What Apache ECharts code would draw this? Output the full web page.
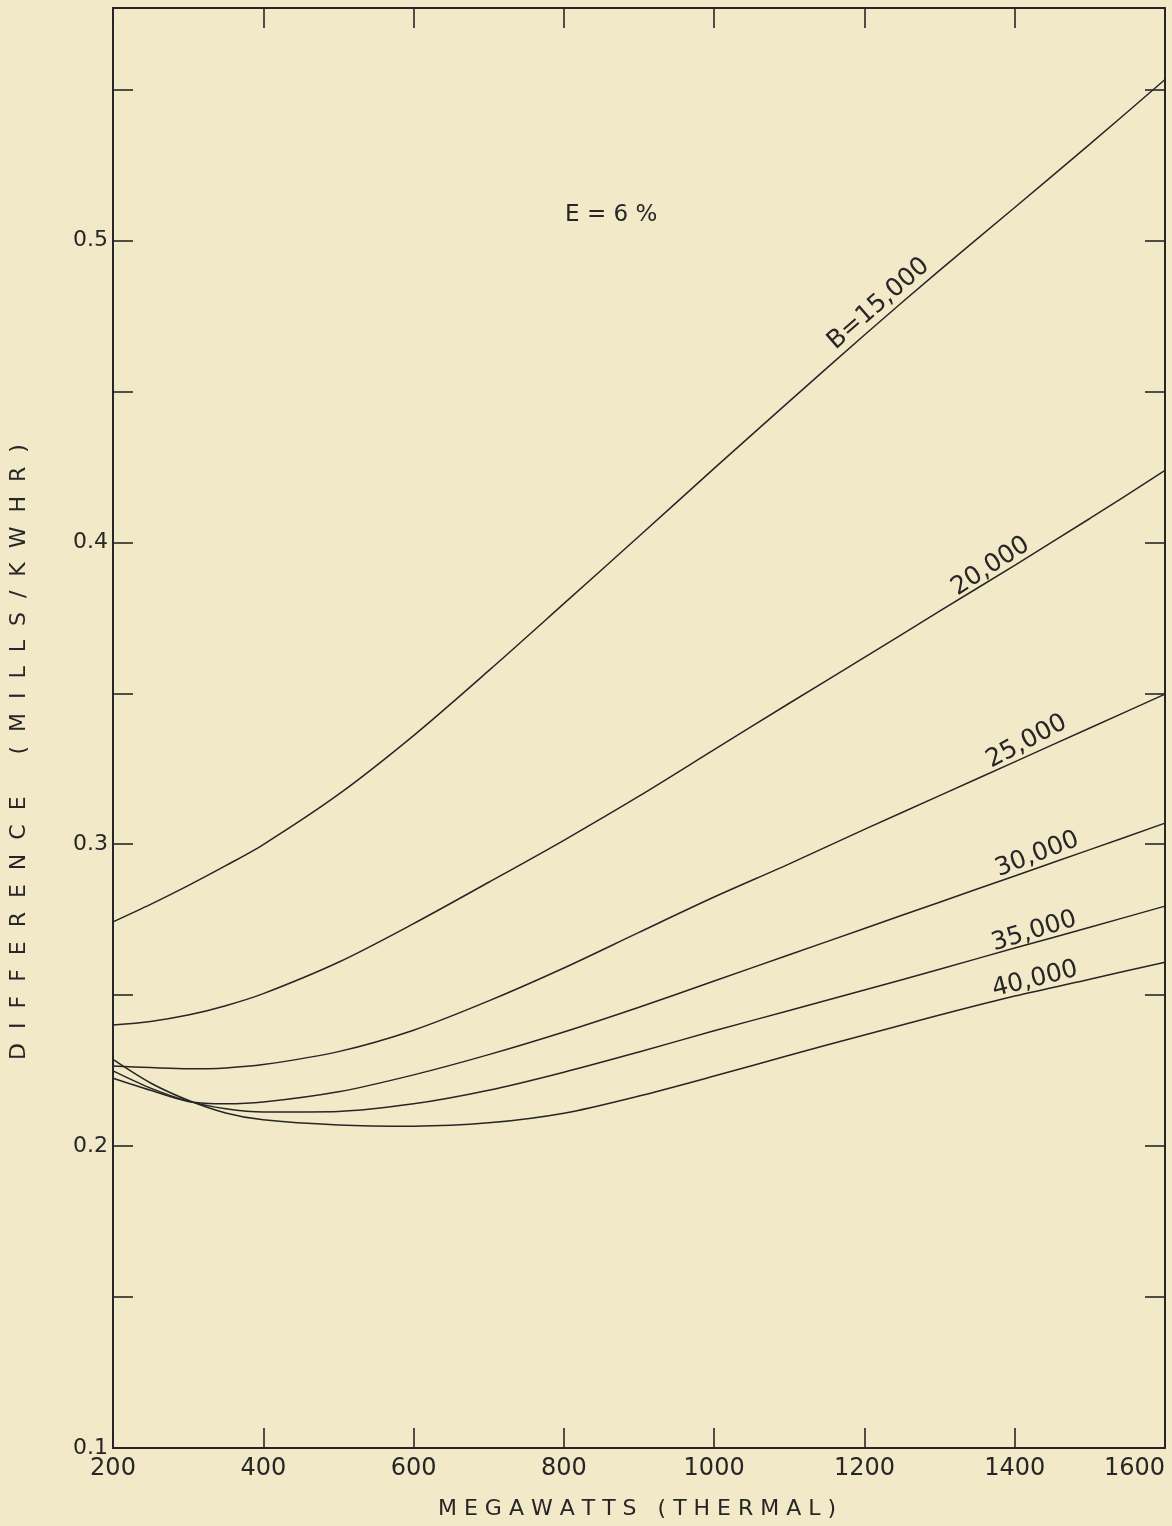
<!DOCTYPE html>
<html>
<head>
<meta charset="utf-8">
<script src="https://cdn.jsdelivr.net/npm/echarts@6/dist/echarts.min.js"></script>
<style>
html,body{margin:0;padding:0;background:#f2e9c8;}
#c{width:1172px;height:1526px;}
</style>
</head>
<body>
<div id="c"></div>
<script>
// Megawatts (thermal)
var xs = [200,250,300,350,400,500,600,700,800,900,1000,1100,1200,1300,1400,1500,1600];
// Difference (mills/kwhr) per B value
var b15000 = [0.2743,0.2801,0.2863,0.2929,0.2999,0.3165,0.3360,0.3575,0.3797,0.4020,0.4245,0.4467,0.4687,0.4901,0.5109,0.5319,0.5533];
var b20000 = [0.2401,0.2413,0.2434,0.2465,0.2505,0.2609,0.2737,0.2874,0.3013,0.3159,0.3313,0.3467,0.3619,0.3772,0.3924,0.4079,0.4238];
var b25000 = [0.2265,0.2260,0.2256,0.2259,0.2270,0.2313,0.2384,0.2481,0.2590,0.2708,0.2825,0.2935,0.3049,0.3161,0.3273,0.3385,0.3497];
var b30000 = [0.2225,0.2185,0.2148,0.2140,0.2146,0.2180,0.2236,0.2303,0.2378,0.2460,0.2547,0.2634,0.2721,0.2808,0.2895,0.2982,0.3070];
var b35000 = [0.2249,0.2192,0.2149,0.2124,0.2113,0.2115,0.2140,0.2185,0.2245,0.2312,0.2382,0.2449,0.2517,0.2586,0.2656,0.2725,0.2795];
var b40000 = [0.2287,0.2209,0.2152,0.2110,0.2087,0.2070,0.2066,0.2077,0.2109,0.2166,0.2232,0.2301,0.2368,0.2434,0.2497,0.2553,0.2609];
var seriesNames = ['B=15,000','20,000','25,000','30,000','35,000','40,000'];
// curve labels: text, x, y, rotation (deg)
var labelTexts = ['B=15,000','20,000','25,000','30,000','35,000','40,000','E = 6 %'];
var labelX = [1219,1368,1416,1430,1426,1427,863];
var labelY = [0.4790,0.3920,0.3340,0.2966,0.2711,0.2552,0.5083];
var labelRot = [41,33,28,21,17,14,0];
var labelSize = [25,25,25,25,25,25,23];
var xTitle = 'M E G A W A T T S   ( T H E R M A L )';
var yTitle = 'D  I  F  F  E  R  E  N  C  E      (  M  I  L  L  S  /  K  W  H  R  )';

var ink = '#262626';
var font = 'DejaVu Sans';
var all = [b15000,b20000,b25000,b30000,b35000,b40000];

function pairs(arr){ return xs.map(function(x,i){ return [x, arr[i]]; }); }

var series = all.map(function(arr,i){
  return {
    type:'line', name: seriesNames[i], data: pairs(arr),
    smooth: 0.3, symbol:'none', silent:true,
    lineStyle:{color:ink, width:1.5}
  };
});
series.push({
  type:'scatter', silent:true, symbolSize:1, itemStyle:{color:'rgba(0,0,0,0)'},
  data: labelTexts.map(function(t,i){
    return {name:t, value:[labelX[i], labelY[i]], label:{rotate:labelRot[i], fontSize:labelSize[i]}};
  }),
  label:{show:true, position:'inside', formatter:'{b}', color:ink, fontFamily:font,
         textBorderWidth:0, opacity:1},
  labelLayout:{hideOverlap:false}
});

var axisLine = {show:true, lineStyle:{color:ink, width:2}};
var tick = {show:true, inside:true, length:20, lineStyle:{color:ink, width:1.6}};

function yFmt(v){
  var k = v*10;
  if (Math.abs(k - Math.round(k)) < 1e-6) return v.toFixed(1);
  return '';
}

var chart = echarts.init(document.getElementById('c'), null, {renderer:'canvas'});
chart.setOption({
  backgroundColor:'#f2e9c8',
  animation:false,
  grid:{left:113, right:7, top:8, bottom:78, containLabel:false},
  xAxis:[
    {type:'value', position:'bottom', min:200, max:1600, interval:200,
     axisLine:axisLine, axisTick:tick, splitLine:{show:false},
     axisLabel:{color:ink, fontSize:24, fontFamily:font, margin:9, alignMaxLabel:'right',
       formatter:function(v){ return String(v); }}},
    {type:'value', position:'top', min:200, max:1600, interval:200,
     axisLine:axisLine, axisTick:tick, splitLine:{show:false}, axisLabel:{show:false}}
  ],
  yAxis:[
    {type:'value', position:'left', min:0.1, max:0.577, interval:0.05,
     axisLine:axisLine, axisTick:tick, splitLine:{show:false},
     axisLabel:{color:ink, fontSize:22, fontFamily:font, margin:5, formatter:yFmt}},
    {type:'value', position:'right', min:0.1, max:0.577, interval:0.05,
     axisLine:axisLine, axisTick:tick, splitLine:{show:false}, axisLabel:{show:false}}
  ],
  graphic:[
    {type:'text', left:438, top:1498, style:{text:xTitle, fill:ink, font:'22px "DejaVu Sans"'}},
    {type:'text', x:8, y:752, rotation:Math.PI/2, originX:0, originY:0,
     style:{text:yTitle, fill:ink, font:'22px "DejaVu Sans"', textAlign:'center', textVerticalAlign:'top'}}
  ],
  series:series
});
</script>
</body>
</html>
